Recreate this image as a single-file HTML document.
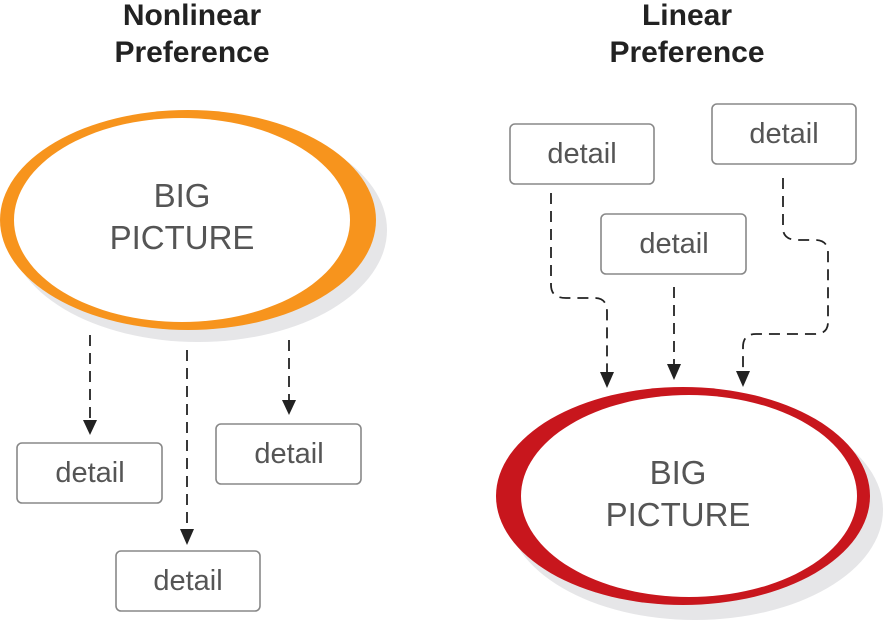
<!DOCTYPE html>
<html><head><style>body{margin:0;background:#fff}svg{display:block}</style></head><body>
<svg width="883" height="620" viewBox="0 0 883 620" xmlns="http://www.w3.org/2000/svg" font-family="Liberation Sans, sans-serif">
<g font-weight="bold" font-size="30" fill="#222" text-anchor="middle">
<text x="192" y="25">Nonlinear</text><text x="192" y="62">Preference</text>
<text x="687" y="25">Linear</text><text x="687" y="62">Preference</text></g>
<ellipse cx="198" cy="230" rx="189" ry="112" fill="#e6e6e8"/>
<ellipse cx="188" cy="220" rx="188" ry="110" fill="#f7941d"/>
<ellipse cx="182" cy="220" rx="168" ry="102" fill="#fff"/>
<ellipse cx="695" cy="510" rx="188" ry="110" fill="#e6e6e8"/>
<ellipse cx="683" cy="496" rx="187" ry="109" fill="#c8161d"/>
<ellipse cx="689" cy="496" rx="168" ry="101" fill="#fff"/>
<g font-size="33" fill="#555" text-anchor="middle">
<text x="182" y="207">BIG</text><text x="182" y="249">PICTURE</text>
<text x="678" y="484">BIG</text><text x="678" y="526">PICTURE</text></g>
<g fill="#fff" stroke="#888" stroke-width="1.6">
<rect x="17" y="443" width="145" height="60" rx="5"/><rect x="216" y="424" width="145" height="60" rx="5"/><rect x="116" y="551" width="144" height="60" rx="5"/>
<rect x="510" y="124" width="144" height="60" rx="5"/><rect x="712" y="104" width="144" height="60" rx="5"/><rect x="601" y="214" width="145" height="60" rx="5"/></g>
<g font-size="29" fill="#555" text-anchor="middle">
<text x="90" y="482">detail</text><text x="289" y="463">detail</text><text x="188" y="590">detail</text>
<text x="582" y="163">detail</text><text x="784" y="143">detail</text><text x="674" y="253">detail</text></g>
<g fill="none" stroke="#222" stroke-width="1.8" stroke-dasharray="11,7">
<path d="M90 335V422"/><path d="M187 350V530"/><path d="M289 340V402"/>
<path d="M551 193V285Q551 298 566 298H595Q607 298 607 312V374"/>
<path d="M674 287V367"/>
<path d="M783 178V228Q783 240 798 240H815Q828 240 828 253V322Q828 334 815 334H756Q743 334 743 347V373"/>
</g>
<g fill="#222">
<path d="M83 420H97L90 435Z"/><path d="M180 529H194L187 545Z"/><path d="M282 400H296L289 415Z"/>
<path d="M600 372H614L607 388Z"/><path d="M667 364H681L674 380Z"/><path d="M736 371H750L743 387Z"/>
</g>
</svg>
</body></html>
